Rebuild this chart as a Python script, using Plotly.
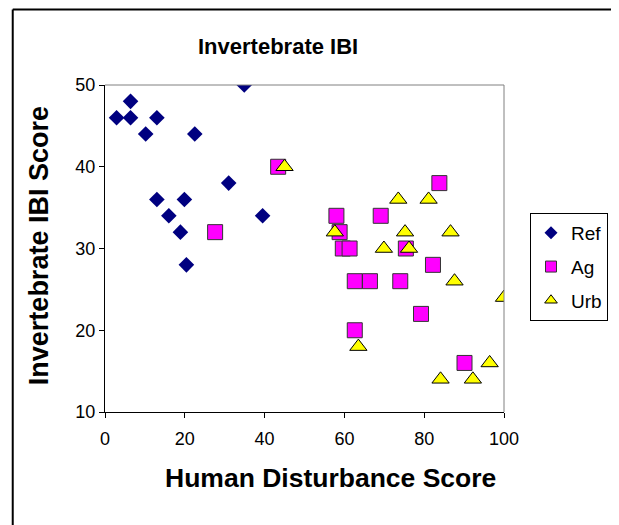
import plotly.graph_objects as go

# Data
ref_x = [2.9, 6.4, 6.4, 10.2, 13.0, 13.0, 16.0, 18.9, 19.9, 20.4, 22.5, 31.0, 34.9, 39.5]
ref_y = [46, 48, 46, 44, 46, 36, 34, 32, 36, 28, 44, 38, 50, 34]

ag_x = [27.6, 43.4, 83.8, 58.0, 58.8, 59.6, 61.3, 69.1, 75.4, 82.2, 62.6, 66.4, 74.0, 79.2, 62.6, 90.1]
ag_y = [32, 40, 38, 34, 32, 30, 30, 34, 30, 28, 26, 26, 26, 22, 20, 16]

urb_x = [45.0, 73.5, 81.1, 57.6, 75.2, 86.6, 69.9, 76.2, 87.6, 100.0, 63.5, 84.1, 92.2, 96.4]
urb_y = [40, 36, 36, 32, 32, 32, 30, 30, 26, 24, 18, 14, 14, 16]

series_names = ["Ref", "Ag", "Urb"]
x_ticks = [0, 20, 40, 60, 80, 100]
y_ticks = [10, 20, 30, 40, 50]

FONT = "Arial, Liberation Sans, sans-serif"

styles = {
    "Ref": dict(symbol="diamond", color="#000080", line=dict(color="#000080", width=0), size=12),
    "Ag": dict(symbol="square", color="#FF00FF", line=dict(color="#333333", width=1), size=15),
    "Urb": dict(symbol="triangle-up", color="#FFFF00", line=dict(color="#000000", width=1), size=15),
}
legend_sizes = {"Ref": 10, "Ag": 11, "Urb": 11}

fig = go.Figure()
for name, xs, ys in zip(series_names, [ref_x, ag_x, urb_x], [ref_y, ag_y, urb_y]):
    st = styles[name]
    fig.add_trace(go.Scatter(
        x=xs, y=ys, mode="markers", name=name, showlegend=False,
        marker=dict(symbol=st["symbol"], color=st["color"], size=st["size"], line=st["line"]),
    ))
# legend entries with small markers (as in the original legend)
for name in series_names:
    st = styles[name]
    fig.add_trace(go.Scatter(
        x=[None], y=[None], mode="markers", name=name, legendgroup=name, showlegend=True,
        marker=dict(symbol=st["symbol"], color=st["color"], size=legend_sizes[name], line=st["line"]),
    ))

# page body has an 8px margin: size the figure so it fits the 619x525 window
OFF = 8
W, H = 619 - OFF, 525 - OFF
L, R, T, B = 105 - OFF, W - (505 - OFF), 85 - OFF, H - (412 - OFF)
pw, ph = W - L - R, H - T - B

def px2x(px):
    return (px - OFF - L) / pw

def py2y(py):
    return (H - B - (py - OFF)) / ph

fig.update_layout(
    width=W, height=H,
    margin=dict(l=L, r=R, t=T, b=B, pad=0),
    paper_bgcolor="white", plot_bgcolor="white",
    font=dict(family=FONT, color="black"),
    showlegend=True,
    legend=dict(
        x=px2x(530), y=py2y(213), xanchor="left", yanchor="top",
        bordercolor="black", borderwidth=1, bgcolor="white",
        font=dict(family=FONT, size=19, color="black"),
        tracegroupgap=6, itemwidth=30,
    ),
    xaxis=dict(
        range=[0, 100], tickvals=x_ticks, ticktext=[str(v) for v in x_ticks],
        showgrid=False, zeroline=False, showline=True, linecolor="black", linewidth=1,
        ticks="outside", ticklen=5, tickcolor="black", ticklabelstandoff=5,
        tickfont=dict(family=FONT, size=18, color="black"), fixedrange=True,
    ),
    yaxis=dict(
        range=[10, 50], tickvals=y_ticks, ticktext=[str(v) for v in y_ticks],
        showgrid=False, zeroline=False, showline=True, linecolor="black", linewidth=1,
        ticks="outside", ticklen=5, tickcolor="black",
        tickfont=dict(family=FONT, size=18, color="black"), fixedrange=True,
    ),
    annotations=[
        dict(text="<b>Invertebrate IBI</b>", xref="paper", yref="paper",
             x=px2x(278), y=py2y(47), xanchor="center", yanchor="middle",
             showarrow=False, font=dict(family=FONT, size=22, color="black")),
        dict(text="<b>Human Disturbance Score</b>", xref="paper", yref="paper",
             x=px2x(331), y=py2y(478), xanchor="center", yanchor="middle",
             showarrow=False, font=dict(family=FONT, size=26.5, color="black")),
        dict(text="<b>Invertebrate IBI Score</b>", xref="paper", yref="paper",
             x=px2x(39), y=py2y(246), xanchor="center", yanchor="middle", textangle=-90,
             showarrow=False, font=dict(family=FONT, size=27, color="black")),
    ],
    shapes=[
        # plot area top/right border (gray)
        dict(type="line", xref="paper", yref="paper", x0=0, x1=1, y0=1, y1=1,
             line=dict(color="#808080", width=1)),
        dict(type="line", xref="paper", yref="paper", x0=1, x1=1, y0=0, y1=1,
             line=dict(color="#808080", width=1)),
        # chart area border
        dict(type="line", xref="paper", yref="paper", x0=px2x(12.5), x1=px2x(618), y0=py2y(9.5), y1=py2y(9.5),
             line=dict(color="black", width=2)),
        dict(type="line", xref="paper", yref="paper", x0=px2x(12.5), x1=px2x(12.5), y0=py2y(9.5), y1=py2y(540),
             line=dict(color="black", width=2)),
        dict(type="line", xref="paper", yref="paper", x0=px2x(617.5), x1=px2x(617.5), y0=py2y(9.5), y1=py2y(540),
             line=dict(color="#808080", width=1)),
    ],
)

fig.write_html("out.html")
